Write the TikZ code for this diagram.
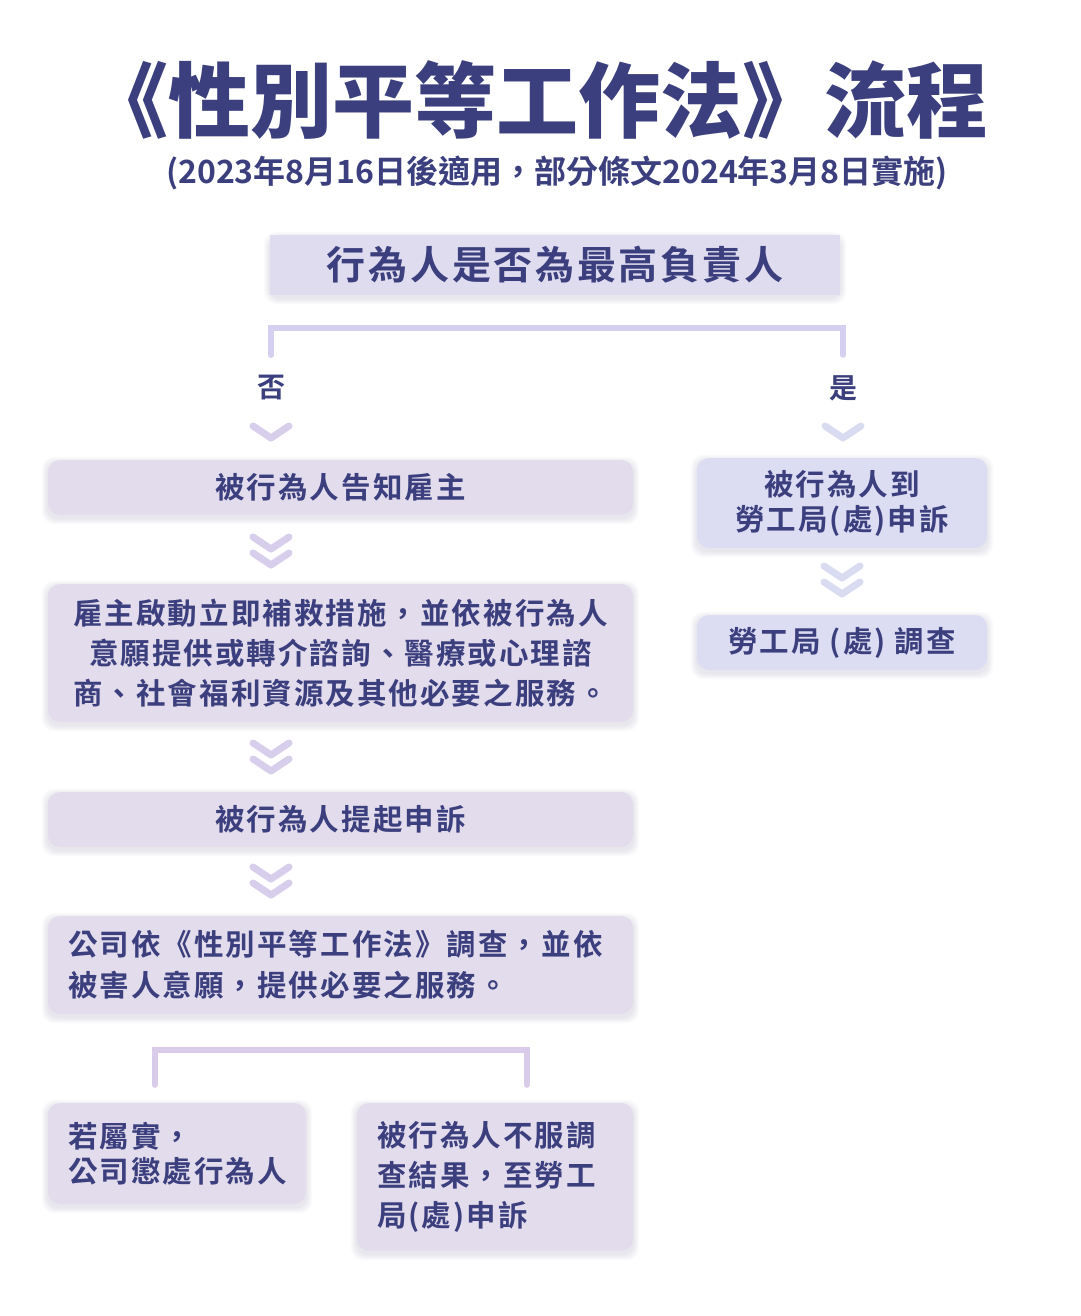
\documentclass[tikz,border=0pt]{standalone}
\usepackage{fontspec}
\usepackage{xcolor}
\setmainfont{Noto Sans CJK TC}
\newfontfamily\titlefont{Noto Sans CJK TC Black}
\newfontfamily\boxfont{Noto Sans CJK TC Bold}[LetterSpace=7]
\usetikzlibrary{backgrounds}
\definecolor{ink}{HTML}{3B3F7E}
\definecolor{lav}{HTML}{E2DCEC}
\definecolor{peri}{HTML}{DCDDF2}
\definecolor{topfill}{HTML}{DFDCF0}
\definecolor{chevL}{HTML}{D7CEEC}
\definecolor{chevR}{HTML}{D9DCF1}
\definecolor{brk}{HTML}{D5D0F0}
\definecolor{brkB}{HTML}{D9CCEA}
\definecolor{glow}{HTML}{6E6490}
\tikzset{
  flowbox/.style={rounded corners=12pt,inner sep=0pt,text=ink},
  chevline/.style={line width=7pt,line cap=round,line join=round},
  bracket/.style={line width=6pt,line cap=round},
  chev/.pic={\draw[chevline] (-18,-6) -- (0,6) -- (18,-6);},
  dchev/.pic={\draw[chevline] (-18,-14) -- (0,-2) -- (18,-14);
              \draw[chevline] (-18,2) -- (0,14) -- (18,2);}
}
\begin{document}
\begin{tikzpicture}[x=1pt,y=-1pt]
\useasboundingbox (0,0) rectangle (1080,1316);

\node[text=ink,font=\titlefont\fontsize{82}{84}\selectfont] (title) at (537,100) {《性別平等工作法》流程};
\node[text=ink,font=\boxfont\addfontfeature{LetterSpace=0}\fontsize{32}{34}\selectfont] (subtitle) at (557,173) {(2023年8月16日後適用，部分條文2024年3月8日實施)};

\node[fill=topfill,minimum width=570pt,minimum height=60pt,text=ink,
  font=\boxfont\fontsize{39}{42}\selectfont] (question) at (555,265) {行為人是否為最高負責人};

\node[text=ink,font=\boxfont\fontsize{28}{30}\selectfont] (no) at (271,388) {否};
\node[text=ink,font=\boxfont\fontsize{28}{30}\selectfont] (yes) at (843,388) {是};
\draw[bracket,brk] ([yshift=17pt]no.north) |- ([yshift=44pt]yes.north) -- ([yshift=17pt]yes.north);

\pic[color=chevL] at (271,432) {chev};
\pic[color=chevR] at (843,432) {chev};

\node[flowbox,fill=lav,minimum width=585pt,minimum height=55pt,font=\boxfont\fontsize{29.5}{40}\selectfont] (notify) at (340.5,487.5) {被行為人告知雇主};
\pic[color=chevL] at (271,551) {dchev};
\node[flowbox,fill=lav,minimum width=585pt,minimum height=138pt,align=center,font=\boxfont\fontsize{29.5}{40}\selectfont] (remedy) at (340.5,653) {雇主啟動立即補救措施，並依被行為人\\意願提供或轉介諮詢、醫療或心理諮\\商、社會福利資源及其他必要之服務。};
\pic[color=chevL] at (271,757) {dchev};
\node[flowbox,fill=lav,minimum width=585pt,minimum height=55pt,font=\boxfont\fontsize{29.5}{40}\selectfont] (complaint) at (340.5,819.5) {被行為人提起申訴};
\pic[color=chevL] at (271,881) {dchev};
\node[flowbox,fill=lav,minimum width=585pt,minimum height=98pt,text width=545pt,align=left,font=\boxfont\fontsize{29.5}{41}\selectfont] (inquiry) at (340.5,965) {公司依《性別平等工作法》調查，並依\\被害人意願，提供必要之服務。};

\node[flowbox,fill=lav,minimum width=258pt,minimum height=101pt,text width=218pt,align=left,font=\boxfont\fontsize{29.5}{35}\selectfont] (confirm) at (177,1153.5) {若屬實，\\公司懲處行為人};
\node[flowbox,fill=lav,minimum width=276pt,minimum height=148pt,text width=236pt,align=left,font=\boxfont\fontsize{29.5}{40}\selectfont] (appeal) at (495,1177) {被行為人不服調\\查結果，至勞工\\局(處)申訴};
\draw[bracket,brkB] ([xshift=107pt,yshift=18pt]confirm.north west) |- ([xshift=170pt,yshift=53pt]appeal.north west) -- ([xshift=170pt,yshift=18pt]appeal.north west);

\node[flowbox,fill=peri,minimum width=290pt,minimum height=90pt,align=center,font=\boxfont\fontsize{29.5}{35}\selectfont] (labor) at (842,503) {被行為人到\\勞工局(處)申訴};
\pic[color=chevR] at (842,580) {dchev};
\node[flowbox,fill=peri,minimum width=290pt,minimum height=55pt,font=\boxfont\fontsize{29.5}{40}\selectfont] (laborcheck) at (842,642.5) {勞工局 (處) 調查};

\begin{pgfonlayer}{background}
\fill[white] (0,0) rectangle (1080,1316);
\foreach \n in {question,notify,remedy,complaint,inquiry,confirm,appeal,labor,laborcheck}
  \foreach \k in {1,...,6}
    \fill[glow,opacity=0.022,rounded corners=12pt]
      ([xshift=-\k pt,yshift=\k pt-3pt]\n.north west) rectangle ([xshift=\k pt,yshift=-\k pt-3pt]\n.south east);
\end{pgfonlayer}
\end{tikzpicture}
\end{document}
